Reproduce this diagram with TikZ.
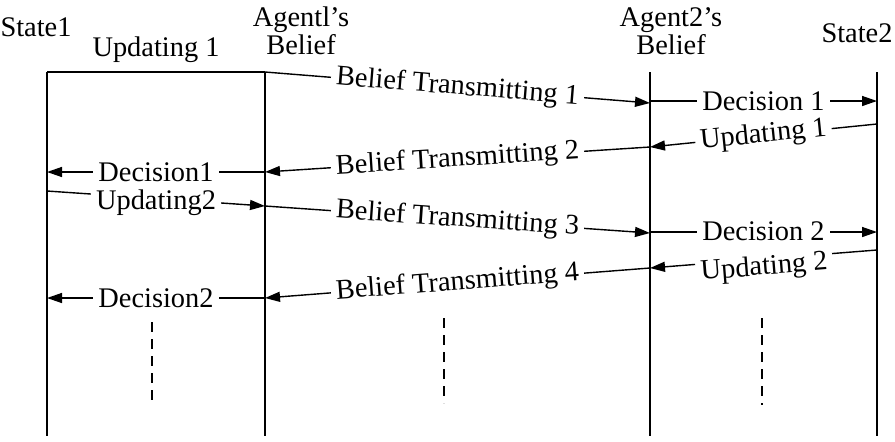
\documentclass[tikz,border=0pt]{standalone}
\usepackage{fontspec}
\setmainfont{Liberation Serif}
\usetikzlibrary{arrows.meta,positioning}
\tikzset{>={Triangle[length=7.5pt,width=5pt]}}

\begin{document}
\begin{tikzpicture}[x=0.5pt,y=-0.5pt,line width=0.7pt,
  lbl/.style={fill=white,inner xsep=2.5pt,inner ysep=0pt,font=\fontsize{14.2}{15}\selectfont},
  head/.style={font=\fontsize{14.2}{12}\selectfont,align=center,inner sep=0pt},
  msg/.style={->},
  lane/.style={line width=0.9pt}]
\useasboundingbox (0,0) rectangle (895,441);
% headings
\node[head] (st1) at (36,27) {State1};
\node[head] (ag1) at (301,31) {Agentl’s\\Belief};
\node[head] (ag2) at (671,31) {Agent2’s\\Belief};
\node[head] (st2) at (857,33) {State2};
% lanes
\coordinate (s1) at (47,72);
\coordinate (b1) at (265,72);
\coordinate (b2) at (650,72);
\coordinate (s2) at (877,72);
\foreach \l in {s1,b1,b2,s2}{
\draw[lane] (\l) -- (\l |- 0,436);
}
\draw[lane] (s1) -- node[head,above=4pt]{Updating 1} (b1);
% messages
\draw[msg] (b1) -- node[lbl,sloped]{Belief Transmitting 1} (b2 |- 0,103);
\draw[msg] (b2 |- 0,101) -- node[lbl]{Decision 1} (s2 |- 0,101);
\draw[msg] (s2 |- 0,124) -- node[lbl,sloped]{Updating 1} (b2 |- 0,147);
\draw[msg] (b2 |- 0,147) -- node[lbl,sloped]{Belief Transmitting 2} (b1 |- 0,172);
\draw[msg] (b1 |- 0,172) -- node[lbl]{Decision1} (s1 |- 0,172);
\draw[msg] (s1 |- 0,191) -- node[lbl,yshift=-2pt]{Updating2} (b1 |- 0,206);
\draw[msg] (b1 |- 0,206) -- node[lbl,sloped]{Belief Transmitting 3} (b2 |- 0,233);
\draw[msg] (s2 |- 0,250) -- node[lbl,sloped,yshift=-4.5pt]{Updating 2} (b2 |- 0,268);
\draw[msg] (b2 |- 0,232) -- node[lbl,yshift=0.5pt]{Decision 2} (s2 |- 0,232);
\draw[msg] (b2 |- 0,268) -- node[lbl,sloped]{Belief Transmitting 4} (b1 |- 0,298);
\draw[msg] (b1 |- 0,298) -- node[lbl]{Decision2} (s1 |- 0,298);
% continuation
\foreach \x/\a/\b in {152/322/405,444/318/403,762/318/405}{
\draw[line width=0.6pt,dash pattern=on 5pt off 3.5pt] (\x,\a) -- (\x,\b);
}
\end{tikzpicture}
\end{document}
